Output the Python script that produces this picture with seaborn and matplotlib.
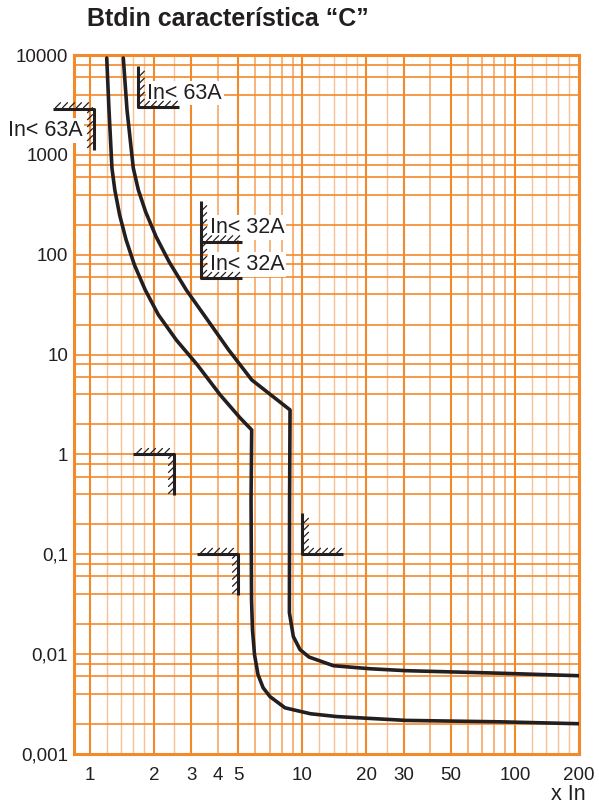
import numpy as np
import pandas as pd
import seaborn as sns
import matplotlib
matplotlib.use("Agg")
import matplotlib.pyplot as plt
from matplotlib.transforms import IdentityTransform

# -------------------------------
# DATA (multiples of In vs trip time in s)
# -------------------------------
x_low = [1.20, 1.23, 1.27, 1.31, 1.38, 1.48, 1.62, 1.82, 2.10, 2.55, 3.20, 4.10, 5.09, 5.77,
         5.73, 5.76, 5.82, 5.95, 6.18, 6.53, 7.04, 8.28, 10.9, 14.5, 30.7, 85.0, 200.0]
t_low = [9330, 2810, 735, 445, 250, 141, 79, 44.5, 25, 14, 7.9, 3.95, 2.32, 1.76,
         0.351, 0.0351, 0.0175, 0.00986, 0.00622, 0.00461, 0.00375, 0.0029, 0.00253,
         0.00237, 0.00217, 0.0021, 0.00201]

x_high = [1.436, 1.495, 1.60, 1.69, 1.83, 2.05, 2.36, 2.84, 3.52, 4.50, 5.771, 8.741,
          8.70, 8.68, 9.06, 9.74, 10.74, 13.99, 20.8, 30.7, 85.1, 200.0]
t_high = [9330, 2815, 739, 445, 268, 151, 84.7, 44.4, 23.3, 11.1, 5.58, 2.79,
          0.351, 0.026, 0.015, 0.0111, 0.00935, 0.00766, 0.00714, 0.00683, 0.00644, 0.00608]

x_ticks = [1, 2, 3, 4, 5, 10, 20, 30, 50, 100, 200]
x_labels = ["1", "2", "3", "4", "5", "10", "20", "30", "50", "100", "200"]
y_ticks = [0.001, 0.01, 0.1, 1, 10, 100, 1000, 10000]
y_labels = ["0,001", "0,01", "0,1", "1", "10", "100", "1000", "10000"]

grid_x_strong = [1, 2, 3, 5, 10, 20, 30, 50, 100]
grid_x_mid = [4, 6, 7, 8, 9, 40, 60, 70, 80, 90]
grid_x_light = [1.2, 1.4, 1.6, 1.8, 2.5, 12, 14, 16, 18, 25, 120, 140, 160, 180]
grid_y_steps = [1, 2, 4, 6, 8]

# bracket marks: corner (x, t), kind, label
bracket_x = [1.04, 1.69, 3.32, 3.32, 2.5, 5.0, 10.0]
bracket_t = [2900, 3000, 135, 58, 1.0, 0.1, 0.1]
bracket_kind = ["A", "B", "B", "B", "A", "A", "B"]
bracket_label = ["In< 63A", "In< 63A", "In< 32A", "In< 32A", "", "", ""]

ORANGE = "#F28A2C"
ORANGE_MID = "#F5A05A"
ORANGE_LIGHT = "#F9C196"
INK = "#231F20"

sns.set_style("white")
plt.rcParams["font.family"] = ["Liberation Sans", "DejaVu Sans"]

fig = plt.figure(figsize=(5.99, 8.08), dpi=100)
ax = fig.add_axes([73.8 / 599, 1 - 754 / 808, (579 - 73.8) / 599, (754 - 55) / 808])
ax.set_xscale("log")
ax.set_yscale("log")
ax.set_xlim(0.84, 200)
ax.set_ylim(0.001, 10000)

# -------------------------------
# GRID
# -------------------------------
for v in grid_x_light:
    ax.axvline(v, color=ORANGE_LIGHT, lw=1.0, zorder=1)
for v in grid_x_mid:
    ax.axvline(v, color=ORANGE_MID, lw=1.1, zorder=1)
for v in grid_x_strong:
    ax.axvline(v, color=ORANGE, lw=1.5, zorder=1)
for dec in range(-3, 4):
    for s in grid_y_steps:
        ax.axhline(s * 10.0 ** dec, color=ORANGE, lw=1.2, zorder=1)

for sp in ax.spines.values():
    sp.set_color(ORANGE)
    sp.set_linewidth(2.2)

# -------------------------------
# CURVES
# -------------------------------
df_low = pd.DataFrame({"x": x_low, "t": t_low})
df_high = pd.DataFrame({"x": x_high, "t": t_high})
sns.lineplot(data=df_low, x="x", y="t", sort=False, estimator=None, color=INK, lw=2.6,
             ax=ax, zorder=5)
sns.lineplot(data=df_high, x="x", y="t", sort=False, estimator=None, color=INK, lw=2.6,
             ax=ax, zorder=5)

# -------------------------------
# TICKS
# -------------------------------
ax.set_xticks(x_ticks)
ax.set_xticklabels(x_labels)
ax.set_yticks(y_ticks)
ax.set_yticklabels(y_labels)
ax.xaxis.set_minor_locator(matplotlib.ticker.NullLocator())
ax.yaxis.set_minor_locator(matplotlib.ticker.NullLocator())
ax.tick_params(axis="both", length=0, labelsize=13.5, colors=INK)
ax.tick_params(axis="x", pad=9)
ax.tick_params(axis="y", pad=4)
ax.set_xlabel("")
ax.set_ylabel("")

# -------------------------------
# BRACKETS (drawn in pixels around data corners)
# -------------------------------
ident = IdentityTransform()
arm = 41
hs, hl = 7, 6
for bx, bt, kind, lab in zip(bracket_x, bracket_t, bracket_kind, bracket_label):
    cx, cy = ax.transData.transform((bx, bt))
    kw = dict(color=INK, transform=ident, clip_on=False, zorder=6)
    if kind == "A":
        ax.plot([cx - arm, cx, cx], [cy, cy, cy - arm], lw=2.2, solid_capstyle="butt", **kw)
        for px in np.arange(cx - arm + 3, cx - 3, hs):
            ax.plot([px, px + 5], [cy + 1, cy + hl], lw=0.9, **kw)
        for py in np.arange(cy - arm + 2, cy - 3, hs):
            ax.plot([cx - 6, cx - 1], [py, py + hl - 1], lw=0.9, **kw)
        if lab:
            ax.text(cx - 11, cy - 22, lab, transform=ident, ha="right", va="center",
                    fontsize=15.5, color=INK, zorder=4,
                    bbox=dict(boxstyle="square,pad=0.08", fc="white", ec="none"))
    else:
        ax.plot([cx, cx, cx + arm], [cy + arm, cy, cy], lw=2.2, solid_capstyle="butt", **kw)
        for py in np.arange(cy + 3, cy + arm - 3, hs):
            ax.plot([cx + 1, cx + 6], [py, py + hl - 1], lw=0.9, **kw)
        for px in np.arange(cx + 6, cx + arm - 3, hs):
            ax.plot([px, px + 5], [cy + 1, cy + hl], lw=0.9, **kw)
        if lab:
            ax.text(cx + 9, cy + 14, lab, transform=ident, ha="left", va="center",
                    fontsize=15.5, color=INK, zorder=4,
                    bbox=dict(boxstyle="square,pad=0.08", fc="white", ec="none"))

# -------------------------------
# TITLE / AXIS LABEL
# -------------------------------
fig.text(87 / 599, 1 - 19 / 808, "Btdin característica \u201cC\u201d", ha="left", va="center",
         fontsize=18, fontweight="bold", color=INK)
fig.text(586 / 599, 1 - 795 / 808, "x In", ha="right", va="center", fontsize=15.5, color=INK)

fig.savefig("out.png", dpi=100, facecolor="white")
